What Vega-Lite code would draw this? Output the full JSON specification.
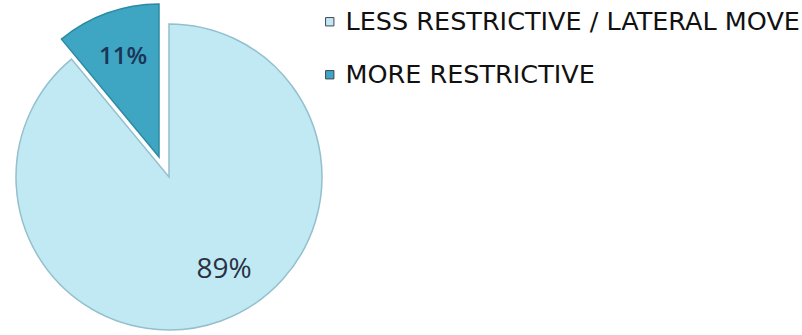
{
  "$schema": "https://vega.github.io/schema/vega-lite/v6.json",
  "width": 338,
  "height": 300,
  "padding": {"left": 0, "top": 27, "right": 464, "bottom": 8},
  "autosize": {"type": "none"},
  "background": "white",
  "config": {"view": {"stroke": null}},
  "data": {"values": [
    {"category": "LESS RESTRICTIVE / LATERAL MOVE", "value": 89, "label": "89%"},
    {"category": "MORE RESTRICTIVE", "value": 11, "label": "11%"}
  ]},
  "encoding": {
    "theta": {"field": "value", "type": "quantitative", "stack": true},
    "order": {"field": "category", "sort": "ascending"},
    "color": {
      "field": "category", "type": "nominal",
      "scale": {"domain": ["LESS RESTRICTIVE / LATERAL MOVE", "MORE RESTRICTIVE"], "range": ["#c0e9f4", "#3ea6c2"]},
      "legend": {
        "orient": "none", "legendX": 317, "legendY": -18, "title": null, "padding": 0,
        "symbolType": "square", "symbolSize": 70, "symbolStrokeColor": "#445", "symbolStrokeWidth": 1,
        "labelFontSize": 25.5, "labelFont": "DejaVu Sans", "labelColor": "#111", "labelOffset": 3, "rowPadding": 26, "labelLimit": 600
      }
    }
  },
  "layer": [
    {
      "mark": {"type": "arc", "outerRadius": 153, "stroke": "#94bfcc", "strokeWidth": 1.5},
      "encoding": {"opacity": {"condition": {"test": "datum.category === 'MORE RESTRICTIVE'", "value": 0}, "value": 1}}
    },
    {
      "mark": {"type": "arc", "outerRadius": 153, "xOffset": -10, "yOffset": -20, "stroke": "#2b8aa3", "strokeWidth": 1.5},
      "encoding": {"opacity": {"condition": {"test": "datum.category === 'MORE RESTRICTIVE'", "value": 1}, "value": 0}}
    },
    {
      "mark": {"type": "text", "radius": 108, "thetaOffset": -0.19, "font": "Open Sans", "fontSize": 28, "baseline": "middle"},
      "encoding": {
        "text": {"field": "label"},
        "color": {"value": "#2a3142"},
        "opacity": {"condition": {"test": "datum.category === 'MORE RESTRICTIVE'", "value": 0}, "value": 1}
      }
    },
    {
      "mark": {"type": "text", "radius": 106, "xOffset": -10, "yOffset": -20, "font": "Open Sans", "fontSize": 24, "fontWeight": 600, "baseline": "middle"},
      "encoding": {
        "text": {"field": "label"},
        "color": {"value": "#1c3557"},
        "opacity": {"condition": {"test": "datum.category === 'MORE RESTRICTIVE'", "value": 1}, "value": 0}
      }
    }
  ]
}
